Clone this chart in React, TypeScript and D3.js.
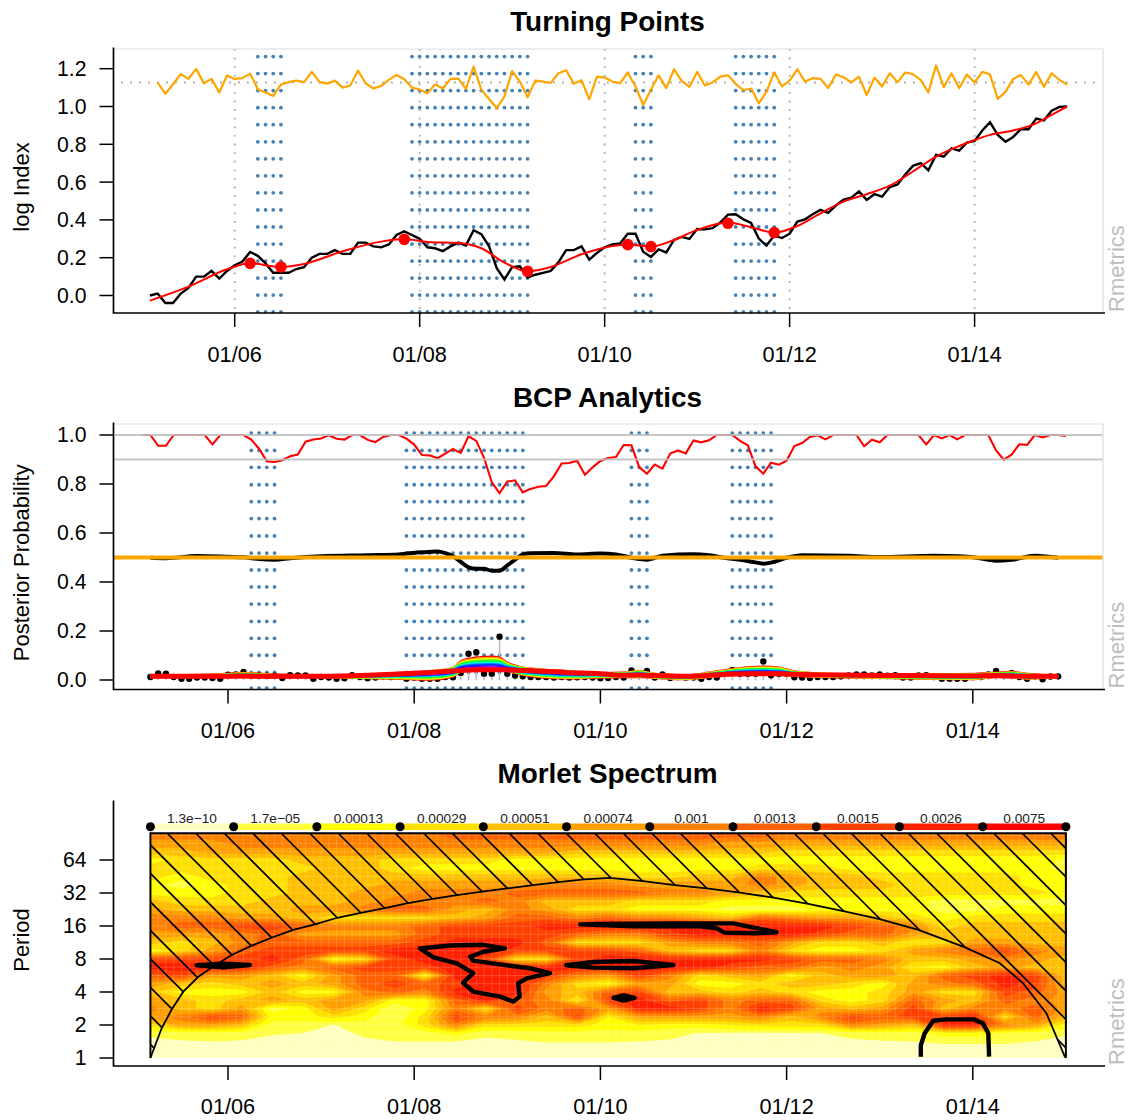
import React from "react";
import * as d3 from "d3";

// months are counted from 2005-01 = 0
const tickMonths = [12, 36, 60, 84, 108];
const tickLabels = ["01/06", "01/08", "01/10", "01/12", "01/14"];

// ---- Turning Points ----
const logIndex = [
  0, 0.01, -0.04, -0.04, 0.01, 0.04, 0.1, 0.1, 0.13, 0.09,
  0.13, 0.16, 0.18, 0.23, 0.21, 0.17, 0.12, 0.12, 0.12, 0.14,
  0.15, 0.2, 0.22, 0.22, 0.24, 0.22, 0.22, 0.28, 0.28, 0.26,
  0.255, 0.27, 0.32, 0.34, 0.32, 0.3, 0.255, 0.25, 0.235, 0.26,
  0.28, 0.265, 0.345, 0.325, 0.26, 0.145, 0.085, 0.15, 0.155, 0.095,
  0.11, 0.12, 0.13, 0.175, 0.24, 0.24, 0.26, 0.19, 0.225, 0.255,
  0.27, 0.275, 0.327, 0.327, 0.232, 0.204, 0.244, 0.228, 0.294, 0.31,
  0.299, 0.352, 0.35, 0.356, 0.386, 0.428, 0.43, 0.403, 0.384, 0.301,
  0.264, 0.317, 0.304, 0.327, 0.391, 0.403, 0.43, 0.453, 0.437, 0.476,
  0.507, 0.518, 0.551, 0.506, 0.536, 0.523, 0.574, 0.588, 0.64, 0.686,
  0.701, 0.663, 0.744, 0.735, 0.779, 0.767, 0.809, 0.818, 0.873, 0.917,
  0.85, 0.814, 0.839, 0.88, 0.88, 0.936, 0.927, 0.978, 0.998, 1,
];
// shifted returns, starts one month later than the index
const returnsLine = [
  1.127, 1.067, 1.118, 1.171, 1.146, 1.199, 1.123, 1.146, 1.074, 1.164,
  1.146, 1.15, 1.174, 1.091, 1.074, 1.056, 1.116, 1.129, 1.137, 1.129,
  1.183, 1.13, 1.121, 1.137, 1.1, 1.111, 1.19, 1.123, 1.095, 1.109,
  1.141, 1.167, 1.144, 1.1, 1.09, 1.07, 1.116, 1.095, 1.146, 1.148,
  1.093, 1.211, 1.088, 1.04, 0.991, 1.053, 1.187, 1.132, 1.049, 1.137,
  1.132, 1.125, 1.176, 1.192, 1.12, 1.139, 1.038, 1.158, 1.153, 1.132,
  1.123, 1.18, 1.106, 1.008, 1.088, 1.165, 1.097, 1.197, 1.136, 1.104,
  1.183, 1.111, 1.127, 1.158, 1.165, 1.12, 1.086, 1.095, 1.017, 1.077,
  1.181, 1.107, 1.137, 1.197, 1.132, 1.15, 1.146, 1.097, 1.169, 1.155,
  1.127, 1.158, 1.061, 1.153, 1.106, 1.176, 1.129, 1.18, 1.171, 1.141,
  1.074, 1.217, 1.102, 1.176, 1.097, 1.169, 1.127, 1.183, 1.169, 1.04,
  1.076, 1.146, 1.167, 1.116, 1.183, 1.104, 1.176, 1.141, 1.116,
];
const returnsMean = 1.127;
const smoothMonths = [1, 6, 11, 14, 18, 21, 26, 31, 34, 37, 41, 44, 47, 50, 53, 57, 61, 63, 66, 69, 72, 76, 79, 82, 85, 88, 91, 94, 97, 100, 103, 106, 108, 110, 113, 116, 118, 120];
const smoothValues = [-0.027, 0.047, 0.139, 0.17, 0.151, 0.167, 0.234, 0.285, 0.299, 0.283, 0.278, 0.25, 0.174, 0.128, 0.151, 0.218, 0.262, 0.269, 0.259, 0.294, 0.347, 0.386, 0.361, 0.333, 0.368, 0.435, 0.497, 0.536, 0.581, 0.656, 0.735, 0.791, 0.823, 0.85, 0.873, 0.911, 0.956, 1];
const turnMonths = [14, 18, 34, 50, 63, 66, 76, 82];
const turnValues = [0.17, 0.151, 0.297, 0.128, 0.269, 0.259, 0.382, 0.333];

// months covered by the blue dotted periods, same in the first two panels
const bearMonths = [
  ...[15, 16, 17, 18],
  ...[35, 36, 37, 38, 39, 40, 41, 42, 43, 44, 45, 46, 47, 48, 49, 50],
  ...[64, 65, 66],
  ...[77, 78, 79, 80, 81, 82],
];
const tpDotRows = [1.264, 1.174, 1.084, 0.994, 0.904, 0.813, 0.723, 0.633, 0.543, 0.453, 0.363, 0.272, 0.182, 0.092, 0.002, -0.087];
const tpTicks = [0, 0.2, 0.4, 0.6, 0.8, 1, 1.2];

// ---- BCP ----
const bcpDotRows = [1.008, 0.937, 0.868, 0.797, 0.728, 0.659, 0.588, 0.518, 0.449, 0.38, 0.31, 0.239, 0.17, 0.101, 0.031, -0.033];
const bcpTicks = [0, 0.2, 0.4, 0.6, 0.8, 1];
const bcpRefLines = [1, 0.9];
const confidence = [
  1, 1, 0.956, 0.956, 1, 1, 1, 1, 1, 0.962,
  1, 1, 1, 1, 0.981, 0.944, 0.893, 0.89, 0.897, 0.913,
  0.92, 0.973, 0.982, 0.986, 0.999, 0.985, 0.981, 1, 1, 0.98,
  0.971, 0.992, 1, 1, 0.985, 0.961, 0.918, 0.917, 0.905, 0.924,
  0.943, 0.927, 0.995, 0.976, 0.907, 0.807, 0.763, 0.81, 0.815, 0.766,
  0.78, 0.789, 0.792, 0.831, 0.884, 0.886, 0.895, 0.838, 0.868, 0.894,
  0.906, 0.91, 0.959, 0.958, 0.869, 0.842, 0.879, 0.863, 0.924, 0.937,
  0.925, 0.978, 0.97, 0.978, 1, 1, 1, 0.976, 0.958, 0.872,
  0.842, 0.887, 0.879, 0.895, 0.955, 0.967, 0.992, 0.999, 0.982, 1,
  1, 1, 1, 0.954, 0.981, 0.97, 1, 1, 1, 1,
  1, 0.962, 1, 0.986, 1, 0.982, 1, 1, 1, 1,
  0.937, 0.899, 0.92, 0.962, 0.96, 1, 0.99, 1, 1, 0.996,
];
const meanMonths = [2, 4, 8, 12, 14, 16, 18, 20, 24, 30, 34, 35, 37, 39, 40, 41, 42, 43, 44, 45, 46, 47, 48, 49, 50, 51, 54, 57, 60, 62, 64, 65, 66, 68, 72, 74, 76, 78, 80, 81, 82, 84, 86, 92, 96, 103, 106, 108, 110, 111, 113, 116, 118, 119];
const meanValues = [0.499, 0.497, 0.506, 0.503, 0.501, 0.494, 0.491, 0.497, 0.505, 0.509, 0.512, 0.516, 0.521, 0.524, 0.518, 0.505, 0.482, 0.46, 0.454, 0.454, 0.446, 0.446, 0.468, 0.491, 0.513, 0.517, 0.518, 0.512, 0.516, 0.512, 0.499, 0.494, 0.491, 0.507, 0.513, 0.509, 0.499, 0.491, 0.48, 0.475, 0.479, 0.499, 0.509, 0.507, 0.502, 0.507, 0.505, 0.501, 0.491, 0.487, 0.491, 0.507, 0.502, 0.499];
const changeProb = [
  0.012, 0.027, 0.026, 0.012, 0.005, 0.005, 0.01, 0.01, 0.008, 0.005,
  0.022, 0.023, 0.033, 0.019, 0.019, 0.018, 0.018, 0.008, 0.02, 0.019,
  0.019, 0.005, 0.012, 0.01, 0.005, 0.007, 0.02, 0.012, 0.007, 0.01,
  0.015, 0.012, 0.015, 0.005, 0.01, 0.005, 0.005, 0.005, 0.012, 0.011,
  0.029, 0.107, 0.113, 0.026, 0.026, 0.177, 0.026, 0.018, 0.015, 0.012,
  0.012, 0.012, 0.01, 0.012, 0.01, 0.011, 0.012, 0.01, 0.007, 0.008,
  0.012, 0.01, 0.039, 0.026, 0.037, 0.01, 0.023, 0.008, 0.012, 0.01,
  0.01, 0.005, 0.012, 0.01, 0.029, 0.041, 0.026, 0.026, 0.026, 0.076,
  0.019, 0.026, 0.026, 0.011, 0.01, 0.008, 0.012, 0.012, 0.012, 0.015,
  0.019, 0.023, 0.023, 0.019, 0.023, 0.018, 0.02, 0.01, 0.01, 0.019,
  0.02, 0.012, 0.005, 0.005, 0.005, 0.005, 0.012, 0.012, 0.023, 0.037,
  0.019, 0.029, 0.012, 0.005, 0.015, 0.003, 0.014, 0.015,
];
// smooth of the change probability, and the envelope of its rainbow fan
const fanMonths = [2, 10, 14, 18, 24, 30, 34, 38, 41, 42, 44, 46, 47, 48, 50, 52, 56, 60, 63, 65, 67, 71, 74, 77, 79, 81, 83, 85, 90, 100, 108, 111, 113, 115, 119];
const fanCenter = [0.015, 0.015, 0.016, 0.015, 0.015, 0.019, 0.024, 0.031, 0.037, 0.039, 0.042, 0.042, 0.042, 0.041, 0.039, 0.037, 0.03, 0.026, 0.019, 0.02, 0.018, 0.015, 0.019, 0.024, 0.026, 0.026, 0.026, 0.023, 0.02, 0.018, 0.016, 0.018, 0.016, 0.015, 0.015];
const fanUpper = [0.02, 0.023, 0.03, 0.023, 0.019, 0.023, 0.03, 0.037, 0.05, 0.078, 0.093, 0.097, 0.093, 0.072, 0.052, 0.045, 0.037, 0.029, 0.031, 0.039, 0.026, 0.02, 0.031, 0.046, 0.053, 0.056, 0.052, 0.037, 0.026, 0.023, 0.026, 0.031, 0.034, 0.026, 0.018];
const fanLower = [0.01, 0.01, 0.01, 0.01, 0.01, 0.005, 0.003, -0.001, 0.012, 0.033, 0.037, 0.037, 0.037, 0.035, 0.019, 0.01, 0.004, 0.008, 0.01, 0.01, 0.007, 0.001, 0.01, 0.018, 0.02, 0.023, 0.02, 0.015, 0.01, 0.004, 0.001, 0.01, 0.01, 0.004, 0.01];
const fanColors = ["#FF0000", "#FF9900", "#FFFF00", "#66FF00", "#00FF33", "#00FFCC", "#0099FF", "#0033FF", "#3300FF", "#CC00FF", "#FF00CC"];

// ---- Morlet ----
const periodTicks = [0, 1, 2, 3, 4, 5, 6];
const periodLabels = ["1", "2", "4", "8", "16", "32", "64"];
const heatColors = ["#FFFFBF", "#FFFF40", "#FFFF00", "#FFDF00", "#FFBF00", "#FF9F00", "#FF8000", "#FF6000", "#FF4000", "#FF2000", "#FF0000"];
const levelLabels = ["1.3e\u221210", "1.7e\u221205", "0.00013", "0.00029", "0.00051", "0.00074", "0.001", "0.0013", "0.0015", "0.0026", "0.0075"];
// colour level; rows go up from log2(period) = 0 in steps of 0.25
const powerLevels = [
  [0, 0, 0, 0, 0, 0, 0, 0, 0, 0, 0, 0, 0, 0, 0, 0, 0, 0, 0, 0, 0, 0, 0, 0, 0, 0, 0, 0, 0, 0, 0],
  [0.3, 0.3, 0.3, 0.3, 0.3, 0.3, 0.3, 0.3, 0.3, 0.3, 0.3, 0.3, 0.3, 0.3, 0.3, 0.3, 0.3, 0.3, 0.3, 0.3, 0.3, 0.3, 0.3, 0.3, 0.3, 0.3, 0.3, 0.3, 0.3, 0.3, 0.3],
  [0.8, 0.9, 1, 0.9, 0.7, 0.6, 0.2, 0.8, 1, 1, 1, 0.8, 0.9, 1.1, 1.1, 1.1, 1, 0.9, 0.6, 0.5, 0.5, 0.6, 0.7, 0.85, 0.95, 1, 1.3, 1.3, 1.3, 1, 0.5],
  [1.2, 1.5, 1.5, 1.5, 1.1, 1, 0.6, 1.2, 1.5, 1.5, 2, 1.2, 1.4, 1.5, 1.5, 1.5, 1.5, 1.3, 0.95, 0.9, 0.85, 0.9, 1, 1.3, 1.5, 1.5, 2, 2, 1.8, 1.5, 1.2],
  [3, 5, 5, 4, 1.5, 1.5, 0.95, 1.5, 1.5, 3, 6, 3, 3, 3, 3, 2, 2.5, 2, 2, 2.5, 3, 3, 3, 6, 5, 4, 9, 9, 6, 5, 2],
  [5, 6, 8, 7, 2, 2, 3, 2, 1, 3, 8, 6, 6, 4, 8, 2.5, 5, 5, 5, 5, 6, 4, 6, 8, 7, 8, 8, 9, 3, 7, 4],
  [6, 4, 3, 5, 1.5, 2, 5, 3, 1, 2, 6, 3, 8, 6, 7, 5, 9, 9, 8, 6, 9, 8, 5, 4, 5, 8, 4, 6, 6, 7, 5],
  [5, 4, 3, 4, 5, 4, 5, 5, 2, 2, 7, 9, 7, 6, 2.5, 8, 9, 7, 8, 6, 7, 7, 3, 2, 3, 7, 5, 4, 7, 6, 5],
  [4, 2, 2, 2, 4, 2, 2, 6, 7, 6, 9, 9, 9, 5, 4, 7, 8, 4, 4, 3, 4, 3, 2, 2, 3, 5, 3, 3, 8, 7, 5],
  [5, 4, 3, 4, 5, 4, 5, 7, 8, 7, 8, 9, 9, 6, 3, 2, 5, 5, 2, 2, 3, 4, 4, 3, 2, 5, 6, 7, 9, 8, 4],
  [7, 8, 5, 5, 4, 2, 5, 7, 7, 2, 9, 9, 9, 8, 6, 5, 8, 6, 3, 4, 5, 2, 4, 5, 5, 4, 7, 8, 9, 8, 4],
  [9, 9, 9, 9, 7, 6, 7, 8, 8, 8, 9, 9, 9, 9, 9, 9, 9, 9, 9, 8, 7, 7, 5, 6, 5, 2.5, 2, 4, 5, 4, 4],
  [8, 8, 8, 8, 9, 7, 2, 3, 8, 9, 9, 8, 3, 3, 8, 9, 9, 9, 9, 9, 9, 8, 7, 7, 6, 4, 4, 5, 6, 5, 4],
  [2, 3, 5, 7, 8, 8, 8, 8, 9, 9, 9, 9, 8, 8, 8, 8, 7, 4, 3, 3, 6, 3, 2, 2, 3, 5, 6, 7, 8, 6, 5],
  [4, 3, 4, 6, 7, 7, 7, 7, 7, 8, 9, 9, 9, 7, 3, 3, 3, 5, 6, 6, 7, 5, 3, 3, 4, 2.5, 3, 5, 5, 4, 4],
  [5, 5, 5, 6, 7, 5, 5, 5, 5, 7, 8, 8, 8, 8, 7, 6, 6, 8, 9, 9, 9, 9, 8, 7, 7, 5, 4, 4, 4, 4, 4],
  [6, 7, 7, 8, 8, 7, 6, 6, 6, 7, 8, 8, 8, 9, 9, 9, 9, 9, 9, 9, 9, 9, 9, 8, 7, 6, 3, 4, 4, 4, 4],
  [6, 6, 6, 5, 5, 4, 3, 3, 3, 3, 4, 5, 7, 7, 6, 7, 6, 6, 5, 4, 7, 6, 5, 5, 4, 3, 2, 3, 3, 3, 3],
  [5, 4, 4, 4, 4, 5, 5, 6, 7, 7, 5, 4, 6, 5, 3, 3, 2, 2, 2, 1.5, 1.5, 1.5, 2, 2, 2, 2, 1.5, 1.5, 2, 2, 2],
  [4, 3, 3, 3, 4, 4, 4, 5, 6, 6, 6, 7, 6, 4, 4, 4, 3, 3, 3, 2, 2, 2, 2, 2, 2, 2, 1.5, 1.5, 1.5, 1.5, 1.5],
  [2, 2, 2, 3, 3, 4, 4, 5, 5, 6, 6, 6, 7, 7, 7, 7, 7, 6, 6, 5, 4, 3, 3, 3, 3, 3, 3, 3, 3, 3, 2],
  [2, 1.5, 2, 3, 3, 4, 4, 4, 5, 5, 5, 5, 5, 6, 6, 6, 5, 5, 5, 5, 6, 5, 4, 4, 4, 3, 3, 3, 3, 2, 2],
  [3, 2, 3, 3, 3, 4, 4, 4, 4, 4, 4, 4, 4, 4, 4, 4, 3, 3, 4, 4, 6, 5, 4, 4, 3, 3, 3, 3, 3, 2, 2],
  [3, 3, 3, 3, 3, 3, 4, 4, 3, 2, 2, 2, 2, 2, 2, 2, 2, 2, 2, 2, 3, 3, 3, 2, 2, 2, 2, 2, 2, 2, 1.5],
  [2, 3, 3, 3, 3, 4, 4, 4, 3, 3, 3, 3, 2, 2, 2, 2, 2, 2, 2, 2, 2, 2, 2, 2, 2, 2, 2, 2, 2, 2, 1.8],
  [4, 4, 5, 5, 5, 5, 5, 5, 5, 5, 5, 5, 5, 5, 4, 4, 4, 4, 4, 4, 4, 3, 3, 3, 3, 3, 3, 3, 3, 3, 3],
  [5, 5, 5, 6, 6, 6, 6, 6, 6, 6, 6, 6, 6, 6, 6, 6, 6, 6, 6, 5, 5, 5, 5, 5, 5, 5, 5, 5, 5, 5, 5],
  [6, 6, 6, 6, 6, 6, 6, 6, 6, 6, 7, 7, 7, 7, 7, 7, 7, 7, 7, 7, 7, 6, 6, 6, 6, 6, 6, 6, 6, 6, 6],
  [6, 6, 6, 6, 6, 6, 6, 6, 6, 6, 7, 7, 7, 7, 7, 7, 7, 7, 7, 7, 7, 6, 6, 6, 6, 6, 6, 6, 6, 6, 6],
];
const coiMonths = [2, 3.45, 4.74, 6.24, 8.17, 9.9, 12.47, 14.92, 17.76, 20.41, 23.2, 26.08, 29.1, 32.2, 35.2, 38.4, 41.7, 44.8, 48, 51.3, 54.6, 57.9, 61.2, 65.5, 69.6, 73.7, 78, 82.3, 86.8, 91.3, 96, 101, 107, 111.5, 114.5, 117.5, 119.9];
const coiPeriods = [0, 0.9, 1.47, 2.01, 2.46, 2.74, 3.12, 3.39, 3.66, 3.88, 4.05, 4.25, 4.4, 4.54, 4.69, 4.82, 4.94, 5.04, 5.14, 5.24, 5.33, 5.41, 5.46, 5.36, 5.24, 5.14, 5.01, 4.86, 4.67, 4.45, 4.21, 3.88, 3.35, 2.87, 2.26, 1.35, 0.02];
// significance contours as [month, log2 period]
const signifA = [[7.96, 2.81], [11.4, 2.86], [14.83, 2.82], [11.4, 2.75]];
const signifB = [[36.74, 3.32], [40.6, 3.41], [44.9, 3.43], [47.7, 3.32], [44.9, 3.22], [43.2, 3.07], [43.6, 2.95], [47.5, 2.82], [50.9, 2.72], [53.5, 2.57], [50.5, 2.41], [49.4, 2.26], [49.6, 1.86], [48.8, 1.71], [47.05, 1.86], [43.6, 2.01], [42.3, 2.28], [43.6, 2.57], [41.5, 2.87], [38.5, 3.05]];
const signifC = [[57.4, 4.05], [59.9, 4.06], [68.5, 4.08], [77.1, 4.08], [82.7, 3.81], [80.1, 3.78], [76, 3.8], [75, 3.93], [72.8, 3.99], [64.2, 3.99], [59.9, 4.03]];
const signifD = [[55.6, 2.81], [59.1, 2.91], [64.2, 2.94], [69.4, 2.82], [64.2, 2.72], [59.1, 2.74]];
const signifE = [[61.7, 1.82], [63, 1.9], [64.4, 1.82], [63, 1.74]];
const signifF = [[101.3, 0.04], [101.3, 0.39], [101.8, 0.75], [102.9, 1.13], [104.6, 1.17], [108.1, 1.17], [109.3, 1.05], [110, 0.75], [110.1, 0.04]];

const FONT = "'Liberation Sans', Arial, Helvetica, sans-serif";
const AXIS_LEFT = 113.5;
const PLOT_RIGHT = 1103;

type Scale = d3.ScaleLinear<number, number>;

function Frame({ title, titleY, yLabel, top, bottom, x, y, yTicks, yTickText, xLabelY, box = true }: {
  title: string; titleY: number; yLabel: string; top: number; bottom: number; x: Scale; y: Scale;
  yTicks: number[]; yTickText: (d: number, i: number) => string; xLabelY: number; box?: boolean;
}) {
  const mid = (top + bottom) / 2 + 6;
  return (
    <g fontFamily={FONT} fill="#000">
      {box && <path d={`M${AXIS_LEFT},${top}H${PLOT_RIGHT}V${bottom}`} fill="none" stroke="#dcdcdc" strokeWidth={1.2} />}
      <path d={`M${AXIS_LEFT},${top - 1.5}V${bottom}H${PLOT_RIGHT + 2}`} fill="none" stroke="#000" strokeWidth={1.7} />
      {tickMonths.map((m, i) => (
        <g key={m}>
          <line x1={x(m)} x2={x(m)} y1={bottom} y2={bottom + 14} stroke="#000" strokeWidth={1.5} />
          <text x={x(m)} y={xLabelY} textAnchor="middle" fontSize={21.7}>{tickLabels[i]}</text>
        </g>
      ))}
      {yTicks.map((t, i) => (
        <g key={t}>
          <line x1={AXIS_LEFT - 14} x2={AXIS_LEFT} y1={y(t)} y2={y(t)} stroke="#000" strokeWidth={1.5} />
          <text x={86.5} y={y(t)} dy="0.35em" textAnchor="end" fontSize={21.2}>{yTickText(t, i)}</text>
        </g>
      ))}
      <text x={607.5} y={titleY} textAnchor="middle" fontSize={27.9} fontWeight="bold">{title}</text>
      <text transform={`translate(29,${mid}) rotate(-90)`} textAnchor="middle" fontSize={22}>{yLabel}</text>
      <text transform={`translate(1124,${bottom - 1}) rotate(-90)`} fontSize={22} fill="#bebebe">Rmetrics</text>
    </g>
  );
}

function BearDots({ x, y, rows }: { x: Scale; y: Scale; rows: number[] }) {
  return (
    <g fill="#4682B4">
      {bearMonths.map((m) => rows.map((r) => <circle key={`${m}-${r}`} cx={x(m)} cy={y(r)} r={1.9} />))}
    </g>
  );
}

function TurningPoints() {
  const top = 49, bottom = 313;
  const x = d3.scaleLinear().domain([12, 108]).range([234.7, 974.6]);
  const y = d3.scaleLinear().domain([0, 1]).range([295.5, 106.5]);
  const line = d3.line<number>().x((_, i) => x(i + 1)).y((d) => y(d));
  const retLine = d3.line<number>().x((_, i) => x(i + 2)).y((d) => y(d));
  const smooth = d3.line<number>().x((_, i) => x(smoothMonths[i])).y((d) => y(d)).curve(d3.curveMonotoneX);
  return (
    <g>
      <defs>
        <clipPath id="tpClip"><rect x={AXIS_LEFT} y={top} width={PLOT_RIGHT - AXIS_LEFT} height={bottom - top} /></clipPath>
      </defs>
      <g clipPath="url(#tpClip)">
        <BearDots x={x} y={y} rows={tpDotRows} />
      </g>
      {tickMonths.map((m) => (
        <line key={m} x1={x(m)} x2={x(m)} y1={top} y2={bottom} stroke="#a9a9a9" strokeWidth={1.8} strokeDasharray="1.8 6.8" />
      ))}
      <line x1={121} x2={1098} y1={y(returnsMean)} y2={y(returnsMean)} stroke="#a9a9a9" strokeWidth={1.8} strokeDasharray="1.8 7.2" />
      <path d={retLine(returnsLine)!} fill="none" stroke="#FFA500" strokeWidth={2.2} strokeLinejoin="round" />
      <path d={line(logIndex)!} fill="none" stroke="#000" strokeWidth={2.4} />
      <path d={smooth(smoothValues)!} fill="none" stroke="#FF0000" strokeWidth={2} />
      {turnMonths.map((m, i) => <circle key={m} cx={x(m)} cy={y(turnValues[i])} r={5.8} fill="#FF0000" />)}
      <Frame title="Turning Points" titleY={31} yLabel="log Index" top={top} bottom={bottom} x={x} y={y}
        yTicks={tpTicks} yTickText={(d) => d3.format(".1f")(d)} xLabelY={361.5} />
    </g>
  );
}

function BcpAnalytics() {
  const top = 424, bottom = 689.5;
  const x = d3.scaleLinear().domain([12, 108]).range([228, 972.8]);
  const y = d3.scaleLinear().domain([0, 1]).range([680, 435]);
  const conf = d3.line<number>().x((_, i) => x(i + 1)).y((d) => y(d));
  const mean = d3.line<number>().x((_, i) => x(meanMonths[i])).y((d) => y(d)).curve(d3.curveMonotoneX);
  const fan = d3.line<number>().x((_, i) => x(fanMonths[i])).y((d) => y(d)).curve(d3.curveMonotoneX);
  return (
    <g>
      <defs>
        <clipPath id="bcpClip"><rect x={AXIS_LEFT} y={top} width={PLOT_RIGHT - AXIS_LEFT} height={bottom - top} /></clipPath>
      </defs>
      <g clipPath="url(#bcpClip)">
        <BearDots x={x} y={y} rows={bcpDotRows} />
      </g>
      <path d={conf(confidence)!} fill="none" stroke="#FF0000" strokeWidth={2.1} />
      {bcpRefLines.map((v) => (
        <line key={v} x1={AXIS_LEFT} x2={PLOT_RIGHT} y1={y(v)} y2={y(v)} stroke="#bebebe" strokeOpacity={0.88} strokeWidth={2} />
      ))}
      <path d={mean(meanValues)!} fill="none" stroke="#000" strokeWidth={4} />
      <line x1={AXIS_LEFT} x2={PLOT_RIGHT} y1={y(0.5)} y2={y(0.5)} stroke="#FFA500" strokeWidth={4} />
      {changeProb.map((v, i) => (
        <line key={i} x1={x(i + 2)} x2={x(i + 2)} y1={y(-0.001)} y2={y(v)} stroke="#bebebe" strokeWidth={1.6} />
      ))}
      {changeProb.map((v, i) => <circle key={i} cx={x(i + 2)} cy={y(v)} r={3.2} fill="#000" />)}
      {fanColors.map((c, i) => {
        const k = 1 - i / fanColors.length;
        return <path key={c} d={fan(fanCenter.map((v, j) => v + k * (fanUpper[j] - v)))!} fill="none" stroke={c} strokeWidth={1.6} />;
      })}
      {fanColors.map((c, i) => {
        const k = 1 - i / fanColors.length;
        return <path key={c} d={fan(fanCenter.map((v, j) => v + k * (fanLower[j] - v)))!} fill="none" stroke={c} strokeWidth={1.2} />;
      })}
      <path d={fan(fanCenter)!} fill="none" stroke="#FF0000" strokeWidth={5} />
      <Frame title="BCP Analytics" titleY={407} yLabel="Posterior Probability" top={top} bottom={bottom} x={x} y={y}
        yTicks={bcpTicks} yTickText={(d) => d3.format(".1f")(d)} xLabelY={737.5} />
    </g>
  );
}

function MorletSpectrum() {
  const top = 802, bottom = 1066;
  const x = d3.scaleLinear().domain([12, 108]).range([228, 972.8]);
  const y = d3.scaleLinear().domain([0, 6]).range([1058, 860]);
  const imgLeft = x(2), imgRight = x(120), imgTop = 833.3, imgBottom = y(0);

  const nRows = powerLevels.length, nCols = powerLevels[0].length;
  const colX = d3.scaleLinear().domain([0, nCols - 1]).range([imgLeft, imgRight]);
  const rowY = (j: number) => y(j * 0.25);
  // a band keeps its colour around the read level, so the peaks get half a step of headroom
  const contourValues = powerLevels.flat().map((v) => (v >= 2 ? v + 0.5 : v));
  const bands = d3.contours().size([nCols, nRows]).thresholds(d3.range(1, heatColors.length))(contourValues);
  const gridPath = d3.geoPath(d3.geoTransform({
    point(px, py) { this.stream.point(colX(px - 0.5), rowY(py - 0.5)); },
  }));

  const coiPts = coiMonths.map((m, i) => [x(m), y(coiPeriods[i])] as [number, number]);
  const coiLine = d3.line()(coiPts)!;
  const hatchArea = `M${imgLeft},${imgBottom}V${imgTop}H${imgRight}V${imgBottom}` + d3.line()(coiPts.slice().reverse())!.replace("M", "L") + "Z";
  const hatchOffsets = d3.range(-894, 260, 28.5);
  const signifLine = d3.line<number[]>().x((d) => x(d[0])).y((d) => y(d[1]));
  const closed = d3.line<number[]>().x((d) => x(d[0])).y((d) => y(d[1])).curve(d3.curveLinearClosed);
  const legendX = d3.scaleLinear().domain([0, heatColors.length]).range([imgLeft, imgRight]);

  return (
    <g>
      <defs>
        <clipPath id="mapClip"><rect x={imgLeft} y={imgTop} width={imgRight - imgLeft} height={imgBottom - imgTop} /></clipPath>
        <clipPath id="hatchClip"><path d={hatchArea} /></clipPath>
      </defs>
      <g clipPath="url(#mapClip)">
        <rect x={imgLeft} y={imgTop} width={imgRight - imgLeft} height={imgBottom - imgTop} fill={heatColors[0]} />
        {bands.map((b, i) => <path key={i} d={gridPath(b as any)!} fill={heatColors[i + 1]} />)}
        {/* faint seams of the raster cells */}
        {d3.range(2, 121).map((m) => (
          <line key={m} x1={x(m)} x2={x(m)} y1={imgTop} y2={imgBottom} stroke="#fff" strokeOpacity={0.16} />
        ))}
        {d3.range(0, 7, 0.25).map((p) => (
          <line key={p} x1={imgLeft} x2={imgRight} y1={y(p)} y2={y(p)} stroke="#fff" strokeOpacity={0.16} />
        ))}
      </g>
      <g clipPath="url(#hatchClip)">
        {hatchOffsets.map((c) => (
          <line key={c} x1={imgLeft} y1={imgLeft - c} x2={imgRight} y2={imgRight - c} stroke="#000" strokeWidth={1.6} />
        ))}
      </g>
      <path d={coiLine} fill="none" stroke="#000" strokeWidth={1.8} />
      <path d={`M${imgLeft},${imgBottom}V${imgTop}H${imgRight}V${imgBottom}`} fill="none" stroke="#000" strokeWidth={2} />
      <g fill="#000" stroke="#000" strokeWidth={4.4} strokeLinejoin="round">
        <path d={closed(signifA)!} />
        <path d={closed(signifB)!} fill="none" />
        <path d={closed(signifC)!} fill="none" />
        <path d={closed(signifD)!} fill="none" />
        <path d={closed(signifE)!} />
        <path d={signifLine(signifF)!} fill="none" />
      </g>
      {heatColors.map((c, i) => (
        <g key={c}>
          <rect x={legendX(i)} y={823.5} width={legendX(i + 1) - legendX(i)} height={6.5} fill={c} />
          <text x={(legendX(i) + legendX(i + 1)) / 2} y={822.7} textAnchor="middle" fontSize={13.7} fontFamily={FONT} fill="#222">{levelLabels[i]}</text>
        </g>
      ))}
      {d3.range(0, heatColors.length + 1).map((i) => <circle key={i} cx={legendX(i)} cy={826.7} r={4.5} fill="#000" />)}
      <Frame title="Morlet Spectrum" titleY={783} yLabel="Period" top={top} bottom={bottom} x={x} y={y} box={false}
        yTicks={periodTicks} yTickText={(_, i) => periodLabels[i]} xLabelY={1113.5} />
    </g>
  );
}

export default function App() {
  return (
    <svg width={1129} height={1120} style={{ position: "absolute", left: 0, top: 0, background: "#fff" }}>
      <TurningPoints />
      <BcpAnalytics />
      <MorletSpectrum />
    </svg>
  );
}
